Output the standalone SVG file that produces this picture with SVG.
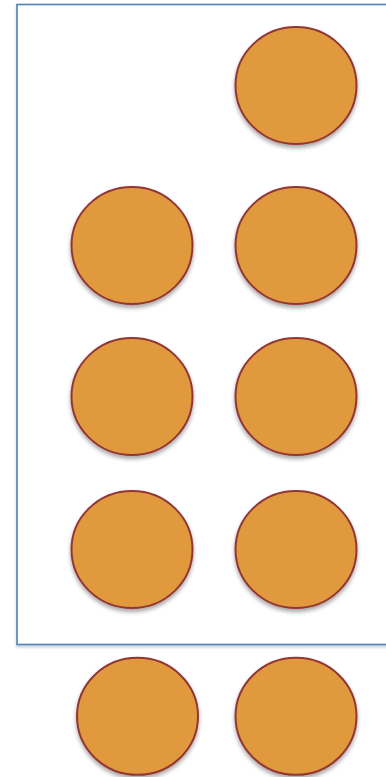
<svg xmlns="http://www.w3.org/2000/svg" width="386" height="777" viewBox="0 0 386 777">
<defs>
<style>
.node{fill:#e0993e;stroke:#943634;stroke-width:2}
.frame{fill:#ffffff;stroke:#4f81bd;stroke-width:1.6}
</style>
<filter id="sh" x="-20%" y="-20%" width="140%" height="150%">
<feGaussianBlur in="SourceAlpha" stdDeviation="2"/>
<feOffset dx="0" dy="3" result="b"/>
<feComponentTransfer><feFuncA type="linear" slope="0.35"/></feComponentTransfer>
<feMerge><feMergeNode/><feMergeNode in="SourceGraphic"/></feMerge>
</filter>
<filter id="fsh" x="-5%" y="-5%" width="110%" height="110%">
<feGaussianBlur in="SourceAlpha" stdDeviation="1.5"/>
<feOffset dx="0" dy="2"/>
<feComponentTransfer><feFuncA type="linear" slope="0.2"/></feComponentTransfer>
<feMerge><feMergeNode/><feMergeNode in="SourceGraphic"/></feMerge>
</filter>
</defs>
<rect width="386" height="777" fill="#ffffff"/>
<g id="frame"><rect class="frame" x="17" y="4.5" width="390" height="640" filter="url(#fsh)"/></g>
<g id="connectors"></g>
<g id="n1"><ellipse class="node" cx="296" cy="85.5" rx="60.5" ry="58.5" filter="url(#sh)"/></g>
<g id="n2"><ellipse class="node" cx="132" cy="245.5" rx="60.5" ry="58.5" filter="url(#sh)"/></g>
<g id="n3"><ellipse class="node" cx="296" cy="245.5" rx="60.5" ry="58.5" filter="url(#sh)"/></g>
<g id="n4"><ellipse class="node" cx="132" cy="396.5" rx="60.5" ry="58.5" filter="url(#sh)"/></g>
<g id="n5"><ellipse class="node" cx="296" cy="396.5" rx="60.5" ry="58.5" filter="url(#sh)"/></g>
<g id="n6"><ellipse class="node" cx="132" cy="549.5" rx="60.5" ry="58.5" filter="url(#sh)"/></g>
<g id="n7"><ellipse class="node" cx="296" cy="549.5" rx="60.5" ry="58.5" filter="url(#sh)"/></g>
<g id="n8"><ellipse class="node" cx="137.5" cy="716.3" rx="60.5" ry="58.5" filter="url(#sh)"/></g>
<g id="n9"><ellipse class="node" cx="296" cy="716.3" rx="60.5" ry="58.5" filter="url(#sh)"/></g>
</svg>
